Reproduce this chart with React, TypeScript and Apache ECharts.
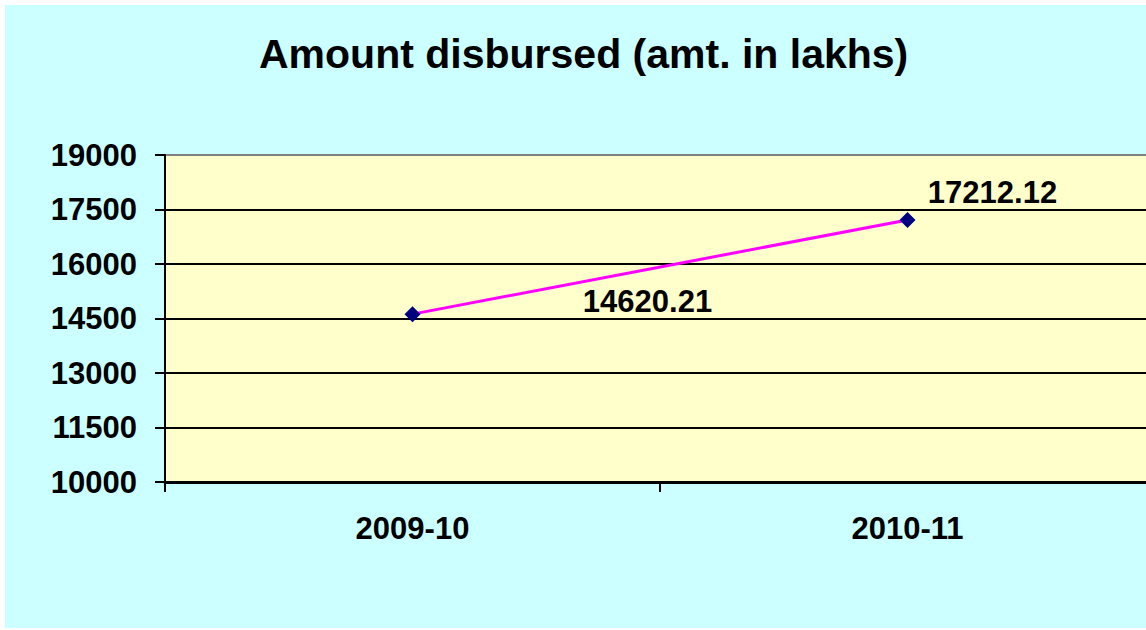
import React, { useEffect, useRef } from "react";
import * as echarts from "echarts";

const categories = ["2009-10", "2010-11"];
const amounts = [14620.21, 17212.12];
const labelOffsets: [number, number][] = [
  [235, -13],
  [85, -27],
];
const yMin = 10000;
const yMax = 19000;
const yStep = 1500;

const FONT = "'Liberation Sans', Arial, sans-serif";

export default function App() {
  const ref = useRef<HTMLDivElement>(null);
  useEffect(() => {
    document.body.style.margin = "0";
    const chart = echarts.init(ref.current!, null, { renderer: "svg" });
    chart.setOption({
      animation: false,
      backgroundColor: "#CCFFFF",
      title: {
        text: "Amount disbursed (amt. in lakhs)",
        left: 249,
        top: 23,
        textStyle: { fontFamily: FONT, fontSize: 41, fontWeight: "bold", color: "#000" },
      },
      grid: {
        left: 160,
        top: 150,
        width: 990,
        bottom: 146,
        show: true,
        backgroundColor: "#FFFFCC",
        borderColor: "#808080",
        borderWidth: 2,
      },
      xAxis: {
        type: "category",
        data: categories,
        boundaryGap: true,
        axisLine: { show: true, lineStyle: { color: "#000", width: 3 } },
        axisTick: { show: true, inside: false, length: 10, lineStyle: { color: "#000", width: 2 } },
        axisLabel: {
          margin: 31,
          fontFamily: FONT,
          fontSize: 31,
          fontWeight: "bold",
          color: "#000",
        },
        splitLine: { show: false },
      },
      yAxis: {
        type: "value",
        min: yMin,
        max: yMax,
        interval: yStep,
        axisLine: { show: true, lineStyle: { color: "#000", width: 2 } },
        axisTick: { show: true, inside: false, length: 10, lineStyle: { color: "#000", width: 2 } },
        axisLabel: {
          margin: 28,
          formatter: (v: number) => String(v),
          fontFamily: FONT,
          fontSize: 31,
          fontWeight: "bold",
          color: "#000",
        },
        splitLine: { show: true, showMaxLine: false, lineStyle: { color: "#000", width: 2 } },
      },
      series: [
        {
          type: "line",
          data: amounts.map((v, i) => ({
            value: v,
            label: { offset: labelOffsets[i] },
          })),
          lineStyle: { color: "#FF00FF", width: 3 },
          symbol: "diamond",
          symbolSize: 16,
          itemStyle: { color: "#000080" },
          label: {
            show: true,
            position: "inside",
            formatter: (p: any) => Number(p.value).toFixed(2),
            fontFamily: FONT,
            fontSize: 31,
            fontWeight: "bold",
            color: "#000",
          },
        },
      ],
    });
    return () => chart.dispose();
  }, []);
  return (
    <div
      style={{
        position: "absolute",
        left: 0,
        top: 0,
        width: 1146,
        height: 630,
        overflow: "hidden",
        background: "#FFFFFF",
      }}
    >
      <div
        ref={ref}
        style={{ position: "absolute", left: 5, top: 5, width: 1170, height: 623 }}
      />
    </div>
  );
}
